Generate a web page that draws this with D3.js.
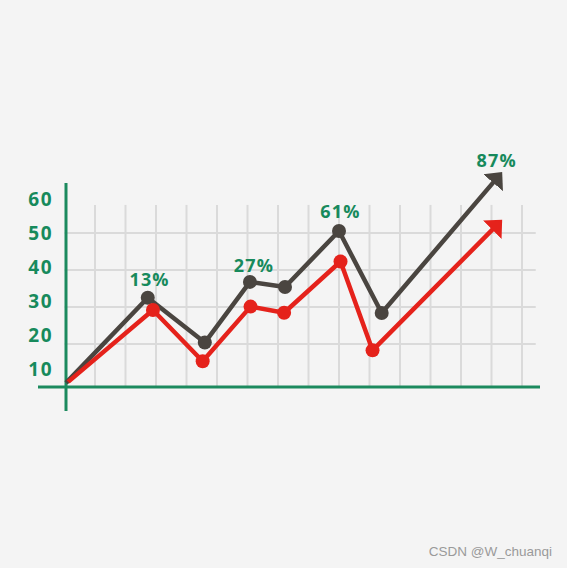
<!DOCTYPE html>
<meta charset="utf-8">
<html lang="en">
<head>
    <title>Growth chart</title>
    <script src="https://d3js.org/d3.v7.min.js"></script>
    <style>
        body {
            margin: 0;
            background-color: #f4f4f4;
        }

        .axis text {
            font: bold 19px "Open Sans", sans-serif;
            letter-spacing: 1.5px;
            fill: #178a5c;
        }

        .pct {
            font: bold 18px "Open Sans", sans-serif;
            letter-spacing: 1.2px;
            fill: #178a5c;
        }

        .grid line {
            stroke: #dadada;
            stroke-width: 2;
        }
    </style>
</head>
<body>
    <svg width="567" height="568"></svg>
    <script>
        // tick labels and grid
        var tickValues = [10, 20, 30, 40, 50, 60];
        var gridY = [17.4, 28.3, 39.2, 50.1];
        var gridX = [1, 2, 3, 4, 5, 6, 7, 8, 9, 10, 11, 12, 13, 14, 15];

        // dark series
        var darkX = [0.05, 2.73, 4.6, 6.08, 7.23, 9.0, 10.4, 14.35];
        var darkY = [5.9, 31.0, 17.8, 35.7, 34.2, 50.7, 26.5, 68.1];

        // red series
        var redX = [0.12, 2.9, 4.53, 6.1, 7.2, 9.05, 10.1, 14.35];
        var redY = [6.2, 27.4, 12.3, 28.4, 26.6, 41.7, 15.5, 54.0];

        // percent callouts
        var pctText = ["13%", "27%", "61%", "87%"];
        var pctX = [2.79, 6.21, 9.05, 14.17];
        var pctY = [34.4, 38.6, 54.5, 69.6];

        var svg = d3.select("svg");

        svg.append("rect")
            .attr("width", 567)
            .attr("height", 568)
            .attr("fill", "#f4f4f4");

        var x = d3.scaleLinear().domain([0, 15]).range([64.5, 522]);
        var y = d3.scaleLinear().domain([10, 60]).range([369, 199.5]);

        var baseValue = 4.7;
        var green = "#1c8a5e";

        // Grid
        var grid = svg.append("g").attr("class", "grid");

        grid.selectAll(".h")
            .data(gridY)
            .enter().append("line")
            .attr("x1", x(0))
            .attr("x2", x(15.45))
            .attr("y1", function(d) { return y(d); })
            .attr("y2", function(d) { return y(d); });

        grid.selectAll(".v")
            .data(gridX)
            .enter().append("line")
            .attr("x1", function(d) { return x(d); })
            .attr("x2", function(d) { return x(d); })
            .attr("y1", y(58.4))
            .attr("y2", y(baseValue));

        // Axis lines
        svg.append("line")
            .attr("x1", 38)
            .attr("x2", 540)
            .attr("y1", y(baseValue))
            .attr("y2", y(baseValue))
            .attr("stroke", green)
            .attr("stroke-width", 3);

        svg.append("line")
            .attr("x1", 66)
            .attr("x2", 66)
            .attr("y1", 183)
            .attr("y2", 411)
            .attr("stroke", green)
            .attr("stroke-width", 3);

        // Y tick labels
        var yAxis = svg.append("g")
            .attr("class", "axis")
            .attr("transform", "translate(53,0)")
            .call(d3.axisLeft(y).tickValues(tickValues).tickSize(0).tickPadding(0));
        yAxis.select(".domain").remove();

        // Arrow heads
        var defs = svg.append("defs");
        [["arrowDark", "#4a4540"], ["arrowRed", "#e5221b"]].forEach(function(a) {
            defs.append("marker")
                .attr("id", a[0])
                .attr("markerUnits", "userSpaceOnUse")
                .attr("viewBox", "-14 -14 28 28")
                .attr("markerWidth", 28)
                .attr("markerHeight", 28)
                .attr("refX", 0)
                .attr("refY", 0)
                .attr("orient", "auto")
                .append("path")
                .attr("d", "M-14,-13 L0,0 L-14,13 Z")
                .attr("fill", a[1]);
        });

        function drawSeries(xs, ys, color, marker) {
            var pts = xs.map(function(v, i) { return [v, ys[i]]; });
            var n = pts.length;
            // shorten the last segment so the arrow tip lands on the end point
            var last = pts[n - 1], prev = pts[n - 2];
            var dx = x(last[0]) - x(prev[0]), dy = y(last[1]) - y(prev[1]);
            var len = Math.sqrt(dx * dx + dy * dy);
            var endPx = [x(last[0]) - dx / len * 10, y(last[1]) - dy / len * 10];

            var path = pts.slice(0, n - 1).map(function(p) { return [x(p[0]), y(p[1])]; });
            path.push(endPx);

            svg.append("path")
                .attr("d", d3.line()(path))
                .attr("fill", "none")
                .attr("stroke", color)
                .attr("stroke-width", 4.5)
                .attr("stroke-linejoin", "round");

            // arrow head pointing at the final value
            svg.append("line")
                .attr("x1", endPx[0] - dx / len)
                .attr("y1", endPx[1] - dy / len)
                .attr("x2", x(last[0]))
                .attr("y2", y(last[1]))
                .attr("stroke", "none")
                .attr("marker-end", "url(#" + marker + ")");

            svg.append("g")
                .selectAll("circle")
                .data(pts.slice(1, n - 1))
                .enter().append("circle")
                .attr("cx", function(d) { return x(d[0]); })
                .attr("cy", function(d) { return y(d[1]); })
                .attr("r", 7)
                .attr("fill", color);
        }

        drawSeries(darkX, darkY, "#4a4540", "arrowDark");
        drawSeries(redX, redY, "#e5221b", "arrowRed");

        // Percent callouts
        svg.append("g")
            .selectAll("text")
            .data(pctText)
            .enter().append("text")
            .attr("class", "pct")
            .attr("x", function(d, i) { return x(pctX[i]); })
            .attr("y", function(d, i) { return y(pctY[i]); })
            .attr("text-anchor", "middle")
            .text(function(d) { return d; });

        // Watermark
        svg.append("text")
            .attr("x", 552)
            .attr("y", 556)
            .attr("text-anchor", "end")
            .style("font", "13.5px 'Liberation Sans', Arial, sans-serif")
            .style("fill", "#9a9a9a")
            .text("CSDN @W_chuanqi");
    </script>
</body>
</html>
